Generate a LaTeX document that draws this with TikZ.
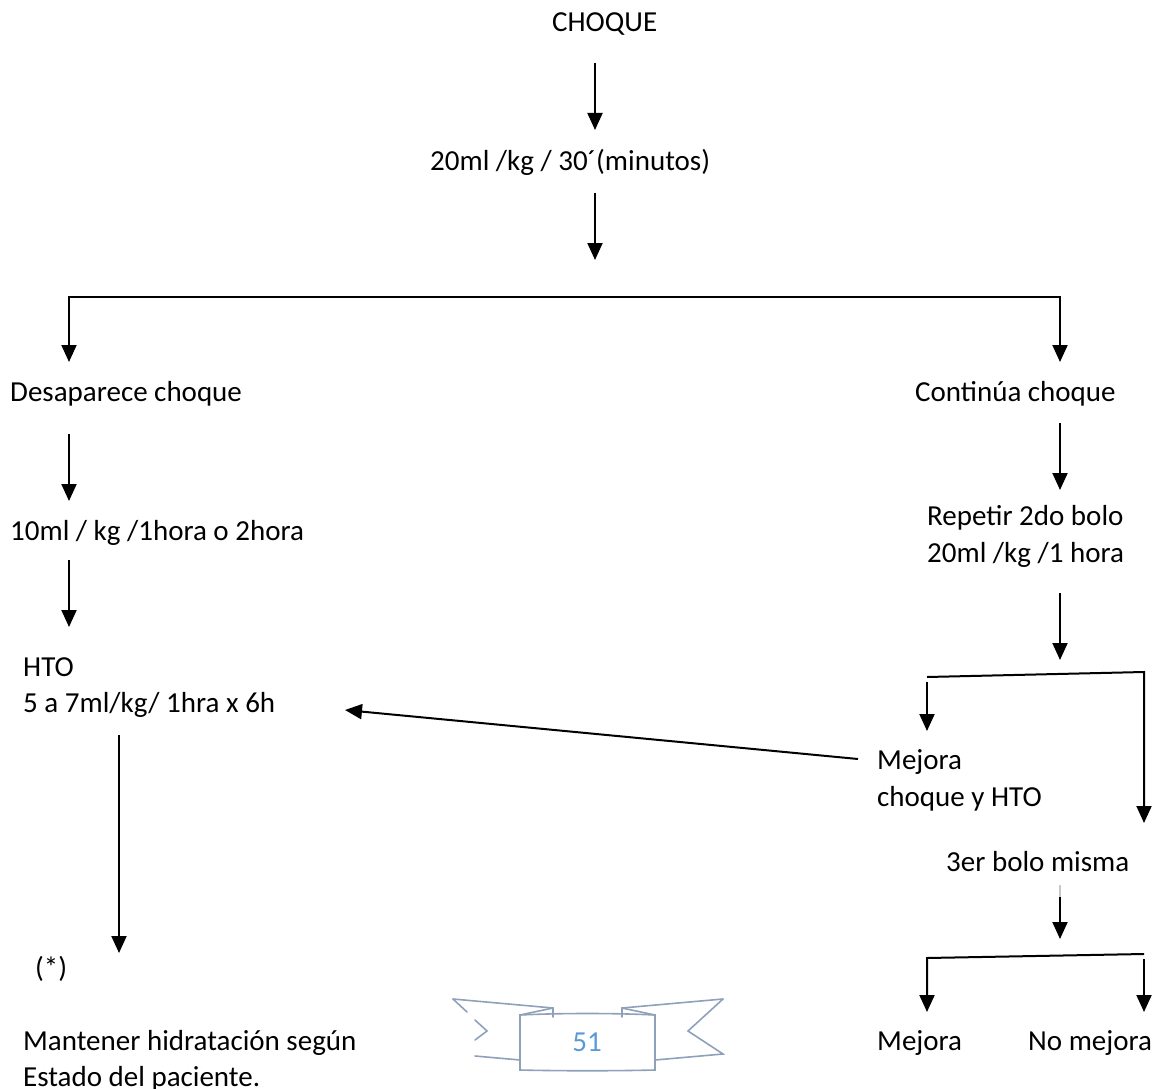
\documentclass[tikz,border=0pt]{standalone}
\usepackage{fontspec}
\setmainfont{Carlito}
\usetikzlibrary{arrows.meta}
\definecolor{ribbon}{HTML}{8FA1BA}
\definecolor{pagenum}{HTML}{5B9BD5}
\definecolor{faint}{HTML}{C8C8C8}
\begin{document}
\begin{tikzpicture}[x=1pt,y=-1pt,
  lbl/.style={anchor=base west, inner sep=0pt, font=\fontsize{29}{36}\selectfont},
  tipA/.tip={Triangle[length=17pt,width=15pt]},
  arr/.style={line width=2pt, -tipA},
  ln/.style={line width=2pt},
  rib/.style={draw=ribbon, line width=1.6pt, line join=miter, line cap=round}]
\useasboundingbox (0,0) rectangle (1156,1089);

% ---------- text nodes ----------
\node[lbl] (choque) at (552,32) {CHOQUE};
\node[lbl] (dosis1) at (430,170) {20ml /kg / 30´(minutos)};
\node[lbl] (desap) at (10,401) {Desaparece choque};
\node[lbl] (cont) at (915,401) {Continúa choque};
\node[lbl] (diez) at (10,540) {10ml / kg /1hora o 2hora};
\node[lbl] (rep1) at (927,525) {Repetir 2do bolo};
\node[lbl] (rep2) at (927,562) {20ml /kg /1 hora};
\node[lbl] (hto1) at (23,676) {HTO};
\node[lbl] (hto2) at (23,712) {5 a 7ml/kg/ 1hra x 6h};
\node[lbl] (mej1) at (877,769) {Mejora};
\node[lbl] (mej2) at (877,806) {choque y HTO};
\node[lbl] (tercer) at (946,871) {3er bolo misma};
\node[lbl] (ast) at (35,977) {(*)};
\node[lbl] (mant1) at (23,1050) {Mantener hidratación según};
\node[lbl] (mant2) at (23,1086) {Estado del paciente.};
\node[lbl] (mejb) at (877,1050) {Mejora};
\node[lbl] (nomej) at (1028,1050) {No mejora};

% ---------- connector end points ----------
\coordinate (a1s) at (595,63);   \coordinate (a1e) at (595,130);
\coordinate (a2s) at (595,193);  \coordinate (a2e) at (595,260);
\coordinate (b1lt) at (69,362);  \coordinate (b1l) at (69,297);
\coordinate (b1r) at (1060,297); \coordinate (b1rt) at (1060,362);
\coordinate (l1s) at (69,434);   \coordinate (l1e) at (69,501);
\coordinate (l2s) at (69,560);   \coordinate (l2e) at (69,627);
\coordinate (l3s) at (119,735);  \coordinate (l3e) at (119,953);
\coordinate (r1s) at (1060,423); \coordinate (r1e) at (1060,490);
\coordinate (r2s) at (1060,593); \coordinate (r2e) at (1060,660);
\coordinate (b2l) at (927,677);  \coordinate (b2r) at (1144,672);
\coordinate (b2rt) at (1144,823);
\coordinate (b2ls) at (927,682); \coordinate (b2le) at (927,731);
\coordinate (dgs) at (858,759);  \coordinate (dge) at (345,710);
\coordinate (r3g) at (1060,885); \coordinate (r3s) at (1060,897);
\coordinate (r3e) at (1060,939);
\coordinate (b3lt) at (927,1012); \coordinate (b3l) at (927,958);
\coordinate (b3r) at (1144,954);
\coordinate (b3rs) at (1144,959); \coordinate (b3re) at (1144,1012);

% ---------- connectors ----------
\draw[arr] (a1s) -- (a1e);
\draw[arr] (a2s) -- (a2e);
\draw[line width=2pt, tipA-tipA, line join=miter] (b1lt) -- (b1l) -- (b1r) -- (b1rt);
\draw[arr] (l1s) -- (l1e);
\draw[arr] (l2s) -- (l2e);
\draw[arr] (l3s) -- (l3e);
\draw[arr] (r1s) -- (r1e);
\draw[arr] (r2s) -- (r2e);
\draw[arr, line join=miter] (b2l) -- (b2r) -- (b2rt);
\draw[arr] (b2ls) -- (b2le);
\draw[arr] (dgs) -- (dge);
\draw[faint, line width=2pt] (r3g) -- (r3s);
\draw[arr] (r3s) -- (r3e);
\draw[line width=2pt, tipA-, line join=miter] (b3lt) -- (b3l) -- (b3r);
\draw[arr] (b3rs) -- (b3re);

% ---------- page ribbon ----------
\draw[rib] (520,1060) -- (475,1056);
\draw[rib] (453,999) -- (553,1008) -- (553,1017);
\draw[rib] (520,1015) -- (553,1008);
\draw[rib] (453,999) -- (467,1012);
\draw[rib] (475,1020) -- (487,1031) -- (475,1040);
\draw[rib] (723,999) -- (622,1008) -- (622,1017);
\draw[rib] (655,1015) -- (622,1008);
\draw[rib] (723,999) -- (688,1031) -- (723,1054) -- (655,1060);
\draw[rib] (520,1015) .. controls (560,1013) and (615,1013) .. (655,1015) -- (655,1070) .. controls (615,1071) and (560,1071) .. (520,1070) -- cycle;
\node[font=\fontsize{29}{36}\selectfont, text=pagenum, inner sep=0pt] (pg) at (587,1042) {51};
\end{tikzpicture}
\end{document}
